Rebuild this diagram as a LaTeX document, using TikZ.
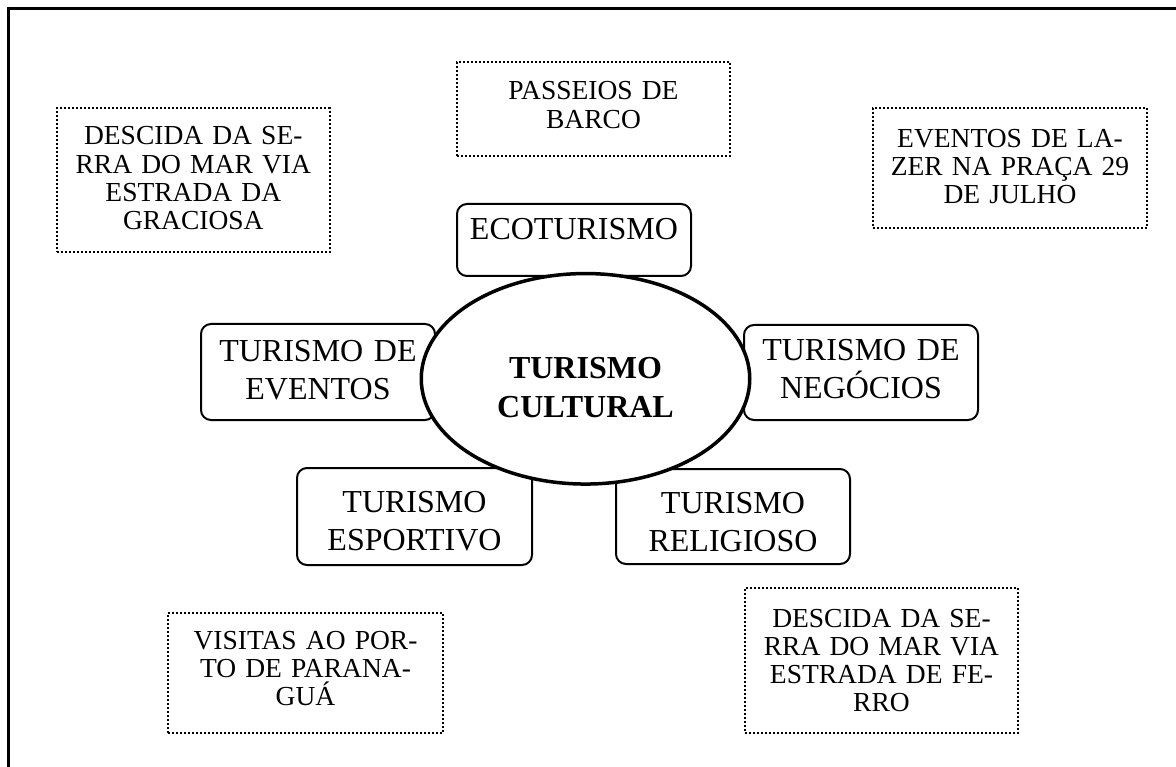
\documentclass[tikz,border=0pt]{standalone}
\usepackage{fontspec}
\setmainfont{Liberation Serif}
\usetikzlibrary{shapes}
\tikzset{
	boxnode/.style = {
		align=center,
		inner sep=0pt,
		anchor=north
	},
	node_cat/.style = {
		boxnode,
		draw=black,
		rounded corners=10pt,
		line width=2pt,
		font=\fontsize{32}{37.5}\selectfont,
		text width=234pt
	},
	node_dot/.style = {
		boxnode,
		draw=black,
		line width=2pt,
		dash pattern=on 2pt off 2pt,
		font=\fontsize{27.5}{28.3}\selectfont,
		text width=273pt
	},
	node_main/.style = {
		ellipse,
		align=center,
		inner sep=0pt,
		draw=black,
		fill=white,
		line width=3.5pt,
		font=\fontsize{32}{39}\selectfont\bfseries,
		text width=200pt
	},
}
\begin{document}
\begin{tikzpicture}[x=1pt, y=-1pt]
\useasboundingbox (0,0) rectangle (1176,767);
\clip (0,0) rectangle (1176,767);
\draw [line width=3.3pt] (8.7,8.7) rectangle (1300,900);
% dotted boxes
\node [node_dot, text height=36.7pt, text depth=106.7pt] (graciosa) at (193.3,107.3) {DESCIDA DA SE-\\RRA DO MAR VIA\\ESTRADA DA\\GRACIOSA};
\node [node_dot, text height=38pt, text depth=56pt] (barco) at (593.5,61) {PASSEIOS DE\\BARCO};
\node [node_dot, text width=274pt, text height=39.3pt, text depth=80.7pt] (lazer) at (1010,107) {EVENTOS DE LA-\\ZER NA PRAÇA 29\\DE JULHO};
\node [node_dot, text width=275pt, text height=36pt, text depth=84pt] (porto) at (305.5,612) {VISITAS AO POR-\\TO DE PARANA-\\GUÁ};
\node [node_dot, text height=39pt, text depth=106pt] (ferro) at (881.5,587) {DESCIDA DA SE-\\RRA DO MAR VIA\\ESTRADA DE FE-\\RRO};
% category boxes
\node [node_cat, text height=35.6pt, text depth=36.4pt] (eco) at (574,203) {ECOTURISMO};
\node [node_cat, text height=37.6pt, text depth=58.4pt] (eventos) at (318,323) {TURISMO DE\\EVENTOS};
\node [node_cat, text height=35.6pt, text depth=59.4pt] (negocios) at (861,324) {TURISMO DE\\NEGÓCIOS};
\node [node_cat, text width=235pt, text height=44.6pt, text depth=52.4pt] (esportivo) at (414.5,467) {TURISMO\\ESPORTIVO};
\node [node_cat, text height=44.6pt, text depth=50.4pt] (religioso) at (733,468) {TURISMO\\RELIGIOSO};
% centre
\node [node_main, minimum width=328.5pt, minimum height=210.5pt, text height=38.6pt, text depth=39pt] (cultural) at (585.5,378.8) {TURISMO\\CULTURAL};
\end{tikzpicture}
\end{document}
